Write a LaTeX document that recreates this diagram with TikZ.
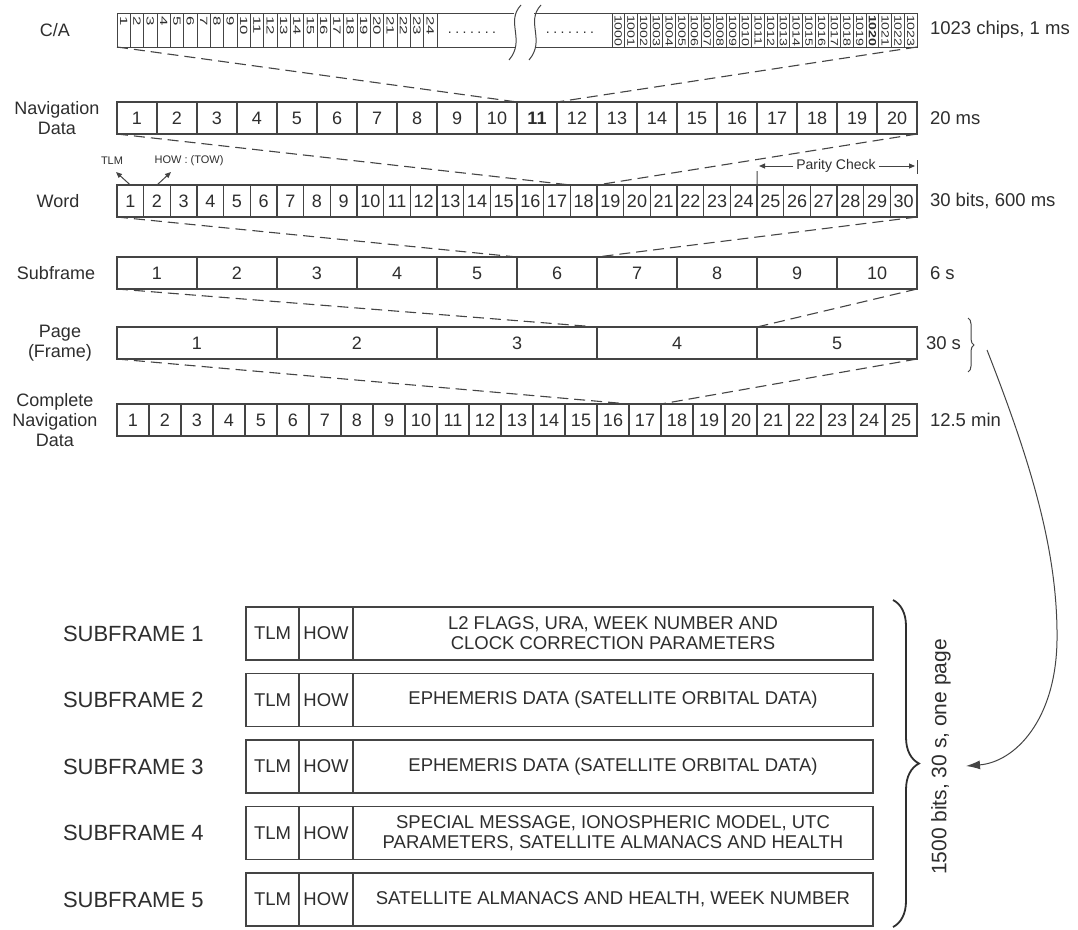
\documentclass[tikz,border=0pt]{standalone}
\usepackage{fontspec}
\setmainfont{Liberation Sans}
\usetikzlibrary{arrows.meta,decorations.pathreplacing,calc}
\definecolor{ink}{HTML}{2E2E2E}
\definecolor{rule}{HTML}{444444}
\newcommand{\fsz}[2]{\fontsize{#1}{#2}\selectfont}
\newcommand{\dotsrow}{.\kern3.5pt.\kern3.5pt.\kern3.5pt.\kern3.5pt.\kern3.5pt.\kern3.5pt.}
\begin{document}
\begin{tikzpicture}[x=1pt,y=-1pt,
  every node/.style={text=ink, inner sep=0pt, outer sep=0pt},
  cellbox/.style={draw=rule, line width=1.1pt, anchor=north west},
  numcell/.style={cellbox, minimum height=32pt, font=\fsz{18}{21}},
  chip/.style={cellbox, line width=0.9pt, minimum height=34pt},
  chipnum/.style={rotate=-90, anchor=west, font=\fsz{10.5}{12}},
  msgcell/.style={cellbox, minimum height=53pt, font=\fsz{18.5}{20}, align=center},
  rowlabel/.style={align=center, font=\fsz{18}{20}},
  sidelabel/.style={anchor=west, font=\fsz{18.5}{21}},
  sflabel/.style={anchor=west, font=\fsz{22}{24}},
  zoomline/.style={draw=rule, line width=1.1pt, dash pattern=on 11pt off 6pt},
  caframe/.style={draw=rule, line width=1pt},
  thinarrow/.style={draw=rule, line width=1pt, -{Triangle[length=6pt,width=5pt]}},
]
\fill[white] (0,0) rectangle (1078,929);
\useasboundingbox (0,0) rectangle (1078,929);

% ---------- C/A row ----------
\foreach \i in {1,...,24} {
  \node[chip, minimum width=13.333pt] (ca\i) at ({117+(\i-1)*13.333},13) {};
  \node[chipnum] (can\i) at ([yshift=-3pt]ca\i.north) {\scalebox{1.6}[1]{\i}};
}
\foreach \i in {1000,...,1023} {
  \node[chip, minimum width=12.708pt] (ca\i) at ({612+(\i-1000)*12.708},13) {};
  \node[chipnum] (can\i) at ([yshift=-2pt]ca\i.north) {\scalebox{1.35}[1]{\ifnum\i=1020 \bfseries\fi\i}};
}
\draw[caframe] (ca24.north east) -- (514,13);
\draw[caframe] (ca24.south east) -- (516,47);
\draw[caframe] (534,13) -- (ca1000.north west);
\draw[caframe] (536,47) -- (ca1000.south west);
\draw[caframe] (521,5) .. controls (505,22) and (526,40) .. (509,60);
\draw[caframe] (541,5) .. controls (525,22) and (546,40) .. (529,60);
\node[font=\fsz{14}{16}] (dotsL) at (472,33) {\dotsrow};
\node[font=\fsz{14}{16}] (dotsR) at (570,33) {\dotsrow};

% ---------- Navigation data ----------
\foreach \i in {1,...,20}
  \node[numcell, minimum width=40pt] (nav\i) at ({117+(\i-1)*40},102) {\ifnum\i=11 \bfseries\fi\i};
% ---------- Word ----------
\foreach \i in {1,...,30}
  \node[numcell, minimum width=26.667pt] (word\i) at ({117+(\i-1)*26.6667},185) {\i};
% ---------- Subframe ----------
\foreach \i in {1,...,10}
  \node[numcell, minimum width=80pt] (sub\i) at ({117+(\i-1)*80},257) {\i};
% ---------- Page ----------
\foreach \i in {1,...,5}
  \node[numcell, minimum width=160pt] (page\i) at ({117+(\i-1)*160},327) {\i};
% ---------- Complete navigation data ----------
\foreach \i in {1,...,25}
  \node[numcell, minimum width=32pt] (cnd\i) at ({117+(\i-1)*32},404) {\i};

% ---------- expansion lines ----------
\draw[zoomline] (ca1.south west) -- (nav11.north west);
\draw[zoomline] (ca1023.south east) -- (nav12.north west);
\draw[zoomline] (nav1.south west) -- (word18.north west);
\draw[zoomline] (nav20.south east) -- (word19.north west);
\draw[zoomline] (word1.south west) -- (sub6.north west);
\draw[zoomline] (word30.south east) -- (sub7.north west);
\draw[zoomline] (sub1.south west) -- (page4.north west);
\draw[zoomline] (sub10.south east) -- (page5.north west);
\draw[zoomline] (page1.south west) -- (cnd17.north west);
\draw[zoomline] (page5.south east) -- (cnd18.north west);

% ---------- row labels ----------
\node[rowlabel] (lca) at (55,30) {C/A};
\node[rowlabel] (lnav) at (57,118) {Navigation\\Data};
\node[rowlabel] (lword) at (58,201) {Word};
\node[rowlabel] (lsub) at (56,273) {Subframe};
\node[rowlabel] (lpage) at (60,343) {Page\\(Frame)};
\node[rowlabel] (lcnd) at (55,420) {Complete\\Navigation\\Data};

\node[sidelabel] (rca) at (930,30) {1023 chips, 1 ms};
\node[sidelabel] (rnav) at (930,118) {20 ms};
\node[sidelabel] (rword) at (930,201) {30 bits, 600 ms};
\node[sidelabel] (rsub) at (930,273) {6 s};
\node[sidelabel] (rpage) at (926,343) {30 s};
\node[sidelabel] (rcnd) at (930,420) {12.5 min};

% ---------- TLM / HOW pointers ----------
\node[font=\fsz{11}{13}] (tlmlbl) at (112,161) {TLM};
\node[font=\fsz{11}{13}] (howlbl) at (189,161) {HOW : (TOW)};
\coordinate (tlmtip) at (116,172);
\coordinate (howtip) at (171,172);
\draw[thinarrow] (word1.north) -- (tlmtip);
\draw[thinarrow] (word2.north) -- (howtip);

% ---------- parity check ----------
\node[font=\fsz{14}{16}] (parity) at (836,166) {Parity Check};
\coordinate (pcl) at (759,166);
\coordinate (pcr) at (915,166);
\coordinate (tickL) at (757,171);
\draw[thinarrow] ([xshift=-3pt]parity.west) -- (pcl);
\draw[thinarrow] ([xshift=3pt]parity.east) -- (pcr);
\draw[caframe] (word25.north west) -- (tickL);
\draw[caframe] (917,160) -- (917,174);

% ---------- small brace and long arrow ----------
\draw[decorate, decoration={brace, amplitude=6pt}, draw=rule, line width=1pt] (968,318) -- (968,372);
\coordinate (arrS) at (987,350);
\coordinate (arrE) at (966,766);
\draw[draw=rule, line width=1pt, -{Latex[length=14pt,width=9pt]}] (arrS) .. controls (1030,460) and (1058,550) .. (1057,640) .. controls (1056,720) and (1015,762) .. (arrE);

% ---------- subframe contents ----------
\foreach \i/\y in {1/607, 2/673.5, 3/740, 4/806.5, 5/873} {
  \node[sflabel] (sfl\i) at (63,\y+26.5) {SUBFRAME \i};
  \node[msgcell, minimum width=53pt] (tlm\i) at (246,\y) {TLM};
  \node[msgcell, minimum width=54pt] (how\i) at (299,\y) {HOW};
}
\node[msgcell, minimum width=520pt] (msg1) at (353,607) {L2 FLAGS, URA, WEEK NUMBER AND\\CLOCK CORRECTION PARAMETERS};
\node[msgcell, minimum width=520pt] (msg2) at (353,673.5) {EPHEMERIS DATA (SATELLITE ORBITAL DATA)};
\node[msgcell, minimum width=520pt] (msg3) at (353,740) {EPHEMERIS DATA (SATELLITE ORBITAL DATA)};
\node[msgcell, minimum width=520pt] (msg4) at (353,806.5) {SPECIAL MESSAGE, IONOSPHERIC MODEL, UTC\\PARAMETERS, SATELLITE ALMANACS AND HEALTH};
\node[msgcell, minimum width=520pt] (msg5) at (353,873) {SATELLITE ALMANACS AND HEALTH, WEEK NUMBER};

\draw[decorate, decoration={brace, amplitude=26pt}, draw=ink, line width=1.8pt] (893,600) -- (893,927);
\node[rotate=90, font=\fsz{21}{24}] (bits) at (941,757) {1500 bits, 30 s, one page};
\end{tikzpicture}
\end{document}
